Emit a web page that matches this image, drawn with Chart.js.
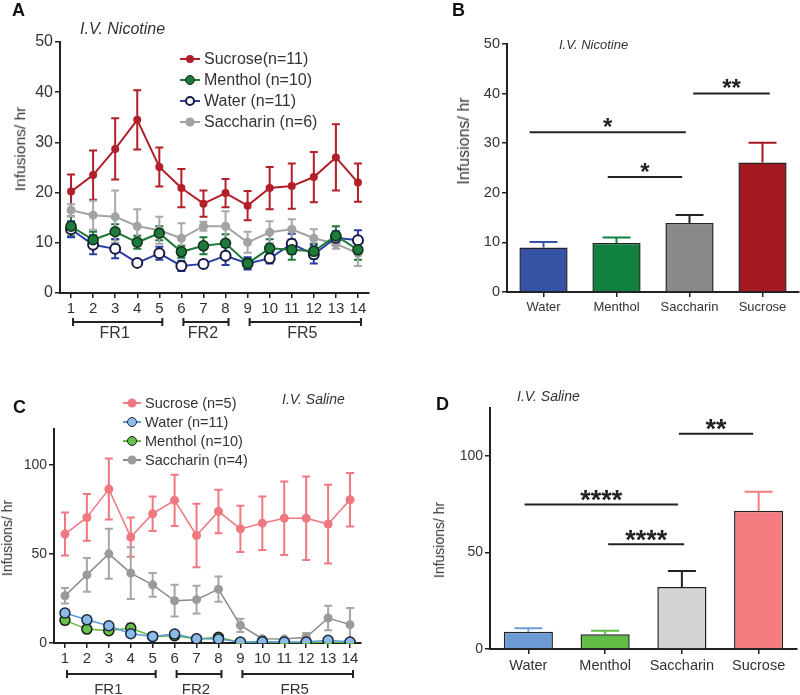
<!DOCTYPE html>
<html>
<head>
<meta charset="utf-8">
<script src="https://cdn.jsdelivr.net/npm/chart.js@4.4.1/dist/chart.umd.min.js"></script>
<style>
  html, body { margin: 0; padding: 0; background: #fff; }
  #fig { position: relative; width: 800px; height: 695px; overflow: hidden; font-family: "Liberation Sans", Arial, sans-serif; color: #222; }
  #fig canvas { position: absolute; }
  .t { position: absolute; line-height: 1; white-space: nowrap; }
  .letter { font-weight: bold; font-size: 18px; color: #111; }
  .sub { font-style: italic; color: #333; }
  .ytitle { transform: translate(-50%, -50%) rotate(-90deg); color: #333; }
  .leg { position: absolute; }
  .leg .row { display: flex; align-items: center; white-space: nowrap; color: #333; }
  .leg .sym { position: relative; display: inline-block; height: 12px; }
  .leg .sym .ln { position: absolute; left: 0; right: 0; top: 5px; height: 2px; }
  .leg .sym .dot { position: absolute; left: 50%; top: 50%; border-radius: 50%; box-sizing: border-box; transform: translate(-50%, -50%); }
</style>
</head>
<body>
<div id="fig">
  <canvas id="cA" width="400" height="360" style="left:0;top:0"></canvas>
  <canvas id="cB" width="400" height="360" style="left:400px;top:0"></canvas>
  <canvas id="cC" width="400" height="335" style="left:0;top:360px"></canvas>
  <canvas id="cD" width="400" height="335" style="left:400px;top:360px"></canvas>

  <div class="t letter" style="left:12px;top:1px">A</div>
  <div class="t letter" style="left:452px;top:1px">B</div>
  <div class="t letter" style="left:13px;top:398px">C</div>
  <div class="t letter" style="left:436px;top:395px">D</div>

  <div class="t sub" style="left:80px;top:21px;font-size:16px">I.V. Nicotine</div>
  <div class="t sub" style="left:559px;top:38px;font-size:13px">I.V. Nicotine</div>
  <div class="t sub" style="left:282px;top:392px;font-size:14px">I.V. Saline</div>
  <div class="t sub" style="left:517px;top:389px;font-size:14px">I.V. Saline</div>

  <div class="t ytitle" style="left:20px;top:149px;font-size:15.5px">Infusions/ hr</div>
  <div class="t ytitle" style="left:464px;top:141px;font-size:16px">Infusions/ hr</div>
  <div class="t ytitle" style="left:7px;top:538px;font-size:14px">Infusions/ hr</div>
  <div class="t ytitle" style="left:439px;top:540px;font-size:14px">Infusions/ hr</div>

  <div class="leg" id="legA" style="left:180px;top:48px"></div>
  <div class="leg" id="legC" style="left:123px;top:393px"></div>
</div>

<script>
// sessions and training phases
const sessions = ['1', '2', '3', '4', '5', '6', '7', '8', '9', '10', '11', '12', '13', '14'];
const phases = ['FR1', 'FR2', 'FR5'];
const phaseStart = [1, 6, 9];
const phaseEnd = [5, 8, 14];
const groups = ['Water', 'Menthol', 'Saccharin', 'Sucrose'];

// A - i.v. nicotine, infusions/hr per session (mean, SEM)
const nicSucrose = [20.2, 23.5, 28.7, 34.5, 25.1, 20.9, 17.8, 19.9, 17.4, 20.9, 21.3, 23.1, 27.0, 22.0];
const nicSucroseSem = [3.4, 4.9, 6.1, 5.9, 3.9, 3.8, 2.6, 2.8, 2.9, 4.2, 4.5, 5.0, 6.6, 3.8];
const nicMenthol = [13.3, 10.6, 12.2, 10.1, 11.9, 8.2, 9.4, 9.9, 5.9, 8.9, 8.6, 8.3, 11.4, 8.6];
const nicMentholSem = [2.0, 1.6, 1.5, 1.3, 1.4, 1.2, 1.7, 1.8, 1.0, 1.8, 2.0, 1.5, 1.9, 2.0];
const nicWater = [12.7, 9.6, 8.8, 6.0, 7.9, 5.4, 5.8, 7.4, 5.9, 6.9, 9.8, 7.7, 11.0, 10.5];
const nicWaterSem = [1.6, 1.9, 1.9, 0.6, 1.3, 1.0, 0.6, 1.8, 1.2, 1.0, 2.0, 1.8, 1.3, 2.0];
const nicSaccharin = [16.5, 15.5, 15.2, 13.3, 12.5, 10.9, 13.3, 13.3, 10.1, 12.1, 12.7, 10.9, 9.8, 7.9];
const nicSaccharinSem = [1.2, 2.9, 5.2, 3.4, 2.7, 3.0, 0.9, 3.0, 2.1, 2.2, 2.0, 1.8, 1.0, 2.5];

// B - i.v. nicotine, average over sessions
const nicMeans = [8.95, 9.9, 13.9, 26.1];
const nicSem = [1.15, 1.1, 1.6, 4.0];
const nicSigFrom = [-0.19, 0.88, 2.05];
const nicSigTo = [1.95, 1.9, 3.1];
const nicSigLevel = [32.2, 23.2, 40];
const nicSigStars = ['*', '*', '**'];

// C - i.v. saline
const salSucrose = [61.1, 70.4, 86.3, 59.4, 72.5, 80.0, 60.3, 73.8, 64.0, 67.2, 70.0, 70.0, 66.7, 80.3];
const salSucroseSem = [12.1, 13.1, 17.1, 11.0, 9.7, 14.4, 17.8, 12.2, 13.0, 15.0, 20.6, 23.4, 22.1, 15.0];
const salWater = [16.8, 13.0, 9.7, 5.2, 3.7, 5.0, 2.4, 2.2, 0.5, 0.7, 0.5, 0.5, 1.5, 0.5];
const salWaterSem = [1.8, 2.0, 1.5, 1.5, 0.8, 1.0, 0.6, 0.5, 0.3, 0.3, 0.3, 0.3, 0.5, 0.3];
const salMenthol = [12.7, 7.8, 6.9, 8.4, 3.7, 4.1, 2.2, 3.2, 0.3, 0.8, 0.3, 0.3, 0.3, 0.3];
const salMentholSem = [1.8, 1.3, 1.5, 2.5, 0.8, 1.2, 0.6, 0.8, 0.3, 0.3, 0.3, 0.3, 0.3, 0.3];
const salSaccharin = [26.5, 38.2, 50.0, 39.2, 32.6, 23.7, 24.3, 30.2, 9.9, 2.4, 2.2, 3.2, 14.0, 10.3];
const salSaccharinSem = [4.3, 9.4, 14.0, 14.5, 6.6, 8.9, 7.8, 7.1, 3.7, 0.8, 0.8, 2.4, 6.9, 9.3];

// D - i.v. saline, average over sessions
const salMeans = [9.0, 7.6, 32.2, 71.7];
const salSem = [1.7, 1.9, 8.3, 9.9];
const salSigFrom = [-0.05, 1.04, 1.96];
const salSigTo = [1.95, 2.03, 2.93];
const salSigLevel = [75, 54.3, 111.6];
const salSigStars = ['****', '****', '**'];

const FONT = '"Liberation Sans", Arial, sans-serif';
Chart.defaults.font.family = FONT;
Chart.defaults.color = '#333';
const AXIS = '#222';

// --- plugins ---
function errorBars(cap, width, upperOnly) {
  return {
    id: 'errorBars',
    beforeDatasetsDraw(chart) {
      const ctx = chart.ctx;
      const y = chart.scales.y;
      chart.data.datasets.forEach((ds, i) => {
        if (!ds.sem) return;
        const meta = chart.getDatasetMeta(i);
        ctx.save();
        ctx.lineWidth = width;
        meta.data.forEach((el, j) => {
          const v = ds.data[j];
          const hi = y.getPixelForValue(v + ds.sem[j]);
          const lo = upperOnly ? el.y : y.getPixelForValue(Math.max(0, v - ds.sem[j]));
          ctx.strokeStyle = Array.isArray(ds.errorColor) ? ds.errorColor[j] : (ds.errorColor || ds.borderColor);
          ctx.beginPath();
          ctx.moveTo(el.x, lo); ctx.lineTo(el.x, hi);
          ctx.moveTo(el.x - cap / 2, hi); ctx.lineTo(el.x + cap / 2, hi);
          if (!upperOnly) { ctx.moveTo(el.x - cap / 2, lo); ctx.lineTo(el.x + cap / 2, lo); }
          ctx.stroke();
        });
        ctx.restore();
      });
    }
  };
}

function phaseBrackets(lineY, textY, size) {
  return {
    id: 'phaseBrackets',
    afterDraw(chart) {
      const ctx = chart.ctx;
      const x = chart.scales.x;
      ctx.save();
      ctx.strokeStyle = AXIS;
      ctx.lineWidth = 2;
      ctx.fillStyle = '#333';
      ctx.font = size + 'px ' + FONT;
      ctx.textAlign = 'center';
      phases.forEach((name, i) => {
        const x1 = x.getPixelForValue(phaseStart[i] - 1) + 2;
        const x2 = x.getPixelForValue(phaseEnd[i] - 1) + 3;
        ctx.beginPath();
        ctx.moveTo(x1, lineY); ctx.lineTo(x2, lineY);
        ctx.moveTo(x1, lineY - 4); ctx.lineTo(x1, lineY + 4);
        ctx.moveTo(x2, lineY - 4); ctx.lineTo(x2, lineY + 4);
        ctx.stroke();
        ctx.fillText(name, (x1 + x2) / 2 - 3, textY);
      });
      ctx.restore();
    }
  };
}

function sigBars(from, to, level, stars, size) {
  return {
    id: 'sigBars',
    afterDatasetsDraw(chart) {
      const ctx = chart.ctx;
      const x = chart.scales.x, y = chart.scales.y;
      ctx.save();
      ctx.strokeStyle = AXIS;
      ctx.fillStyle = '#222';
      ctx.lineWidth = 2;
      ctx.font = 'bold ' + size + 'px ' + FONT;
      ctx.textAlign = 'center';
      from.forEach((f, i) => {
        const x1 = x.getPixelForValue(f), x2 = x.getPixelForValue(to[i]);
        const yy = y.getPixelForValue(level[i]);
        ctx.beginPath();
        ctx.moveTo(x1, yy); ctx.lineTo(x2, yy);
        ctx.stroke();
        ctx.fillText(stars[i], (x1 + x2) / 2, yy - 11 + size * 0.57);
      });
      ctx.restore();
    }
  };
}

function axisStyle(extra) {
  return Object.assign({
    grid: { display: true, drawOnChartArea: false, drawTicks: true, tickLength: 5, color: AXIS, lineWidth: 1.5 },
    border: { display: true, color: AXIS, width: 2 }
  }, extra);
}

function lineSet(label, data, sem, color, r, bg, bc, bw, errColor, lw) {
  return {
    label, data, sem,
    borderColor: color, borderWidth: lw,
    pointRadius: r, pointHoverRadius: r,
    pointBackgroundColor: bg, pointBorderColor: bc, pointBorderWidth: bw,
    errorColor: errColor, tension: 0
  };
}

// --- A ---
const chartA = new Chart(document.getElementById('cA'), {
  type: 'line',
  data: {
    labels: sessions,
    datasets: [
      lineSet('Sucrose(n=11)', nicSucrose, nicSucroseSem, '#B21F28', 4, '#B21F28', '#B21F28', 0, '#B21F28', 2),
      lineSet('Menthol (n=10)', nicMenthol, nicMentholSem, '#1E7A3A', 5, '#1E7A3A', '#10301A', 1.5, '#1E7A3A', 2),
      lineSet('Water (n=11)', nicWater, nicWaterSem, '#2A3DA6', 5, '#ffffff', '#161A45', 2, '#2A3DA6', 2),
      lineSet('Saccharin (n=6)', nicSaccharin, nicSaccharinSem, '#A3A3A3', 4.5, '#A3A3A3', '#A3A3A3', 0, '#A8A8A8', 2)
    ]
  },
  options: {
    responsive: false, animation: false, devicePixelRatio: 1,
    layout: { padding: { left: 0, top: 42, right: 31, bottom: 0 } },
    plugins: { legend: { display: false }, tooltip: { enabled: false } },
    scales: {
      x: axisStyle({ offset: true, ticks: { font: { size: 15 }, color: '#333', padding: 2, maxRotation: 0, autoSkip: false },
        afterFit(s) { s.height = 67; } }),
      y: axisStyle({ min: 0, max: 50, ticks: { stepSize: 10, font: { size: 16 }, color: '#333', padding: 2 },
        afterFit(s) { s.width = 60; } })
    }
  },
  plugins: [errorBars(8, 2, false), phaseBrackets(322, 338, 16)]
});

// --- C ---
const chartC = new Chart(document.getElementById('cC'), {
  type: 'line',
  data: {
    labels: sessions,
    datasets: [
      lineSet('Sucrose (n=5)', salSucrose, salSucroseSem, '#F07880', 4.5, '#F07880', '#F07880', 0, '#F07880', 1.5),
      lineSet('Water (n=11)', salWater, salWaterSem, '#5B9BD5', 5, '#8DBBE8', '#1C2940', 1.5, '#5B9BD5', 1.5),
      lineSet('Menthol (n=10)', salMenthol, salMentholSem, '#5DBB3F', 5, '#68C24A', '#1A1A1A', 1.5, '#5DBB3F', 1.5),
      lineSet('Saccharin (n=4)', salSaccharin, salSaccharinSem, '#8A8A8A', 4.5, '#9A9A9A', '#9A9A9A', 0, '#A6A6A6', 1.5)
    ]
  },
  options: {
    responsive: false, animation: false, devicePixelRatio: 1,
    layout: { padding: { left: 0, top: 69, right: 39, bottom: 0 } },
    plugins: { legend: { display: false }, tooltip: { enabled: false } },
    scales: {
      x: axisStyle({ offset: true, ticks: { font: { size: 15 }, color: '#333', padding: 2, maxRotation: 0, autoSkip: false },
        afterFit(s) { s.height = 52; } }),
      y: axisStyle({ min: 0, max: 120, ticks: { stepSize: 50, includeBounds: false, font: { size: 14 }, color: '#333', padding: 2 },
        afterFit(s) { s.width = 54; } })
    }
  },
  plugins: [errorBars(8, 2, false), phaseBrackets(314, 334, 15)]
});

// --- bar panels ---
function barChart(id, means, sem, colors, errColors, max, step, padTop, padRight, yWidth, xHeight, tickSize, labelSize, barPct, sig) {
  return new Chart(document.getElementById(id), {
    type: 'bar',
    data: {
      labels: groups,
      datasets: [{
        data: means, sem,
        backgroundColor: colors, borderColor: '#222', borderWidth: 1.5,
        errorColor: errColors,
        categoryPercentage: 1, barPercentage: barPct
      }]
    },
    options: {
      responsive: false, animation: false, devicePixelRatio: 1,
      layout: { padding: { left: 0, top: padTop, right: padRight, bottom: 0 } },
      plugins: { legend: { display: false }, tooltip: { enabled: false } },
      scales: {
        x: axisStyle({ ticks: { font: { size: labelSize }, color: '#333', padding: 3, maxRotation: 0 },
          grid: { display: true, offset: false, drawOnChartArea: false, tickLength: 5, color: AXIS, lineWidth: 1.5 },
          afterFit(s) { s.height = xHeight; } }),
        y: axisStyle({ min: 0, max, ticks: { stepSize: step, includeBounds: false, font: { size: tickSize }, color: '#333', padding: 2 },
          afterFit(s) { s.width = yWidth; } })
      }
    },
    plugins: [errorBars(28, 2, true), sig]
  });
}

const chartB = barChart('cB', nicMeans, nicSem,
  ['#3552A5', '#10813F', '#898989', '#A3191F'], ['#3552A5', '#10813F', '#222', '#A3191F'],
  50, 10, 44, 1, 107, 68, 14.5, 13, 0.66,
  sigBars(nicSigFrom, nicSigTo, nicSigLevel, nicSigStars, 24));

const chartD = barChart('cD', salMeans, salSem,
  ['#6C9BD6', '#62BD46', '#D4D4D4', '#F47B80'], ['#6C9BD6', '#62BD46', '#222', '#F47B80'],
  125, 50, 48, 3, 90, 46, 14, 14.5, 0.64,
  sigBars(salSigFrom, salSigTo, salSigLevel, salSigStars, 27));

// --- HTML legends built from the datasets ---
function buildLegend(id, chart, rowH, fontSize, symW) {
  document.getElementById(id).innerHTML = chart.data.datasets.map(ds => `
    <div class="row" style="height:${rowH}px;font-size:${fontSize}px">
      <span class="sym" style="width:${symW}px;margin-right:4px">
        <i class="ln" style="background:${ds.borderColor}"></i>
        <i class="dot" style="width:${ds.pointRadius * 2}px;height:${ds.pointRadius * 2}px;background:${ds.pointBackgroundColor};border:${ds.pointBorderWidth}px solid ${ds.pointBorderColor}"></i>
      </span>${ds.label}</div>`).join('');
}
buildLegend('legA', chartA, 21, 16, 20);
buildLegend('legC', chartC, 19, 14.5, 18);
</script>
</body>
</html>
